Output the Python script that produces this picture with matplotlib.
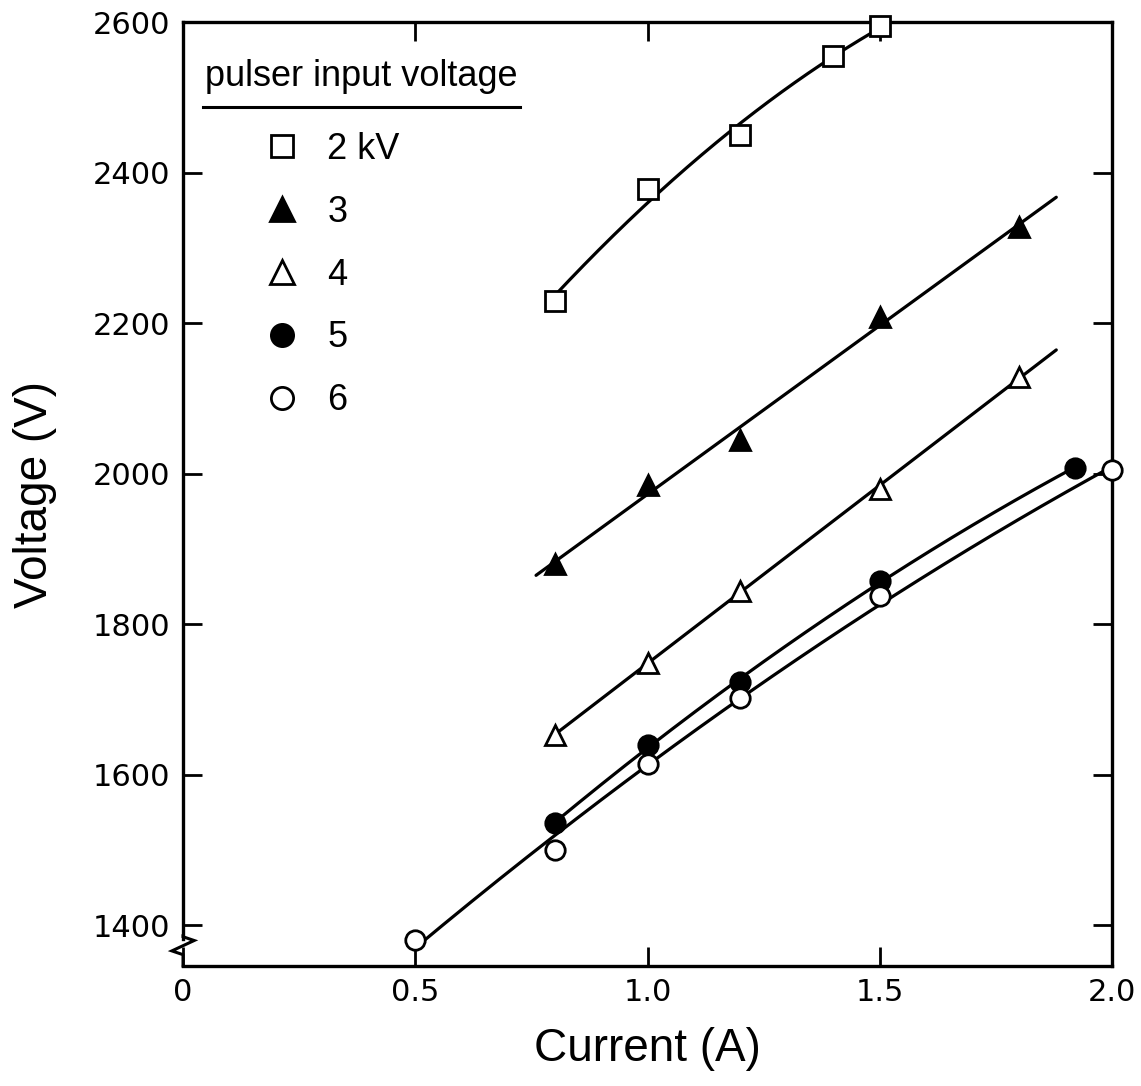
import numpy as np
import matplotlib
matplotlib.use("Agg")
import matplotlib.pyplot as plt
from matplotlib.lines import Line2D

# Measured operating points: load current (A) vs. output voltage (V)
current_2kv = [0.8, 1.0, 1.2, 1.4, 1.5]
voltage_2kv = [2230, 2378, 2450, 2555, 2595]

current_3kv = [0.8, 1.0, 1.2, 1.5, 1.8]
voltage_3kv = [1880, 1985, 2045, 2208, 2328]

current_4kv = [0.8, 1.0, 1.2, 1.5, 1.8]
voltage_4kv = [1653, 1749, 1844, 1980, 2129]

current_5kv = [0.8, 1.0, 1.2, 1.5, 1.92]
voltage_5kv = [1536, 1639, 1723, 1858, 2008]

current_6kv = [0.5, 0.8, 1.0, 1.2, 1.5, 2.0]
voltage_6kv = [1380, 1500, 1615, 1702, 1837, 2005]

series_labels = ["2 kV", "3", "4", "5", "6"]
legend_title = "pulser input voltage"

# Current span covered by each hand-fitted trend curve
curve_spans = [(0.8, 1.5), (0.76, 1.88), (0.8, 1.88), (0.8, 1.92), (0.5, 2.0)]
fit_degrees = [2, 1, 1, 2, 2]

x_ticks = [0, 0.5, 1.0, 1.5, 2.0]
x_tick_labels = ["0", "0.5", "1.0", "1.5", "2.0"]
y_ticks = [1400, 1600, 1800, 2000, 2200, 2400, 2600]
y_tick_labels = ["1400", "1600", "1800", "2000", "2200", "2400", "2600"]

x_label = "Current (A)"
y_label = "Voltage (V)"

currents = [current_2kv, current_3kv, current_4kv, current_5kv, current_6kv]
voltages = [voltage_2kv, voltage_3kv, voltage_4kv, voltage_5kv, voltage_6kv]
marker_styles = [
    dict(marker="s", mfc="white"),
    dict(marker="^", mfc="black"),
    dict(marker="^", mfc="white"),
    dict(marker="o", mfc="black"),
    dict(marker="o", mfc="white"),
]

label_font = "Liberation Sans"
tick_font = "DejaVu Sans"

fig = plt.figure(figsize=(11.41, 10.86), dpi=100)
ax = fig.add_axes([0.1604, 0.1105, 0.8142, 0.8692])
ax.set_xlim(0, 2.0)
ax.set_ylim(1346, 2600)

lw = 2.3
for cur, vol, span, deg, style in zip(currents, voltages, curve_spans,
                                      fit_degrees, marker_styles):
    coef = np.polyfit(cur, vol, deg)
    xs = np.linspace(span[0], span[1], 200)
    ax.plot(xs, np.polyval(coef, xs), color="black", lw=lw,
            solid_capstyle="round", zorder=2)
    ax.plot(cur, vol, linestyle="none", color="black", mec="black",
            ms=14 if style["marker"] != "^" else 15, mew=2.0,
            zorder=3, clip_on=False, **style)

# Axes frame and ticks
for side in ["top", "right", "bottom", "left"]:
    ax.spines[side].set_linewidth(2.4)
ax.spines["left"].set_bounds(1382, 2600)

ax.set_xticks(x_ticks)
ax.set_xticklabels(x_tick_labels)
ax.set_yticks(y_ticks)
ax.set_yticklabels(y_tick_labels)
ax.tick_params(direction="in", length=14, width=2.0, top=True, right=True,
               labelsize=22, pad=9)
for lbl in ax.get_xticklabels() + ax.get_yticklabels():
    lbl.set_family(tick_font)

# Axis break on the voltage axis
brk = Line2D([0, 0, -0.012, 0.012, 0, 0],
             [0.0, 0.012, 0.016, 0.027, 0.031, 0.032],
             transform=ax.transAxes, color="black", lw=2.2,
             clip_on=False, solid_joinstyle="miter")
ax.add_line(brk)

ax.set_xlabel(x_label, fontsize=33, family=label_font, labelpad=14)
ax.set_ylabel(y_label, fontsize=33, family=label_font, labelpad=26)

# Legend: underlined title with marker-only entries
ax.text(0.0237, 0.932, legend_title, transform=ax.transAxes,
        fontsize=26, family=label_font, va="baseline", ha="left")
ax.add_line(Line2D([0.0215, 0.363], [0.910, 0.910], transform=ax.transAxes,
                   color="black", lw=2.2))
handles = [Line2D([], [], linestyle="none", color="black", mec="black",
                  ms=16 if s["marker"] != "^" else 17, mew=2.0, **s)
           for s in marker_styles]
leg = ax.legend(handles, series_labels, loc="upper left",
                bbox_to_anchor=(0.0872, 0.8835), frameon=False,
                prop=dict(family=label_font, size=26), handlelength=1.0,
                handletextpad=0.75, labelspacing=0.77, borderpad=0,
                borderaxespad=0)

fig.savefig("out.png", dpi=100, facecolor="white")
